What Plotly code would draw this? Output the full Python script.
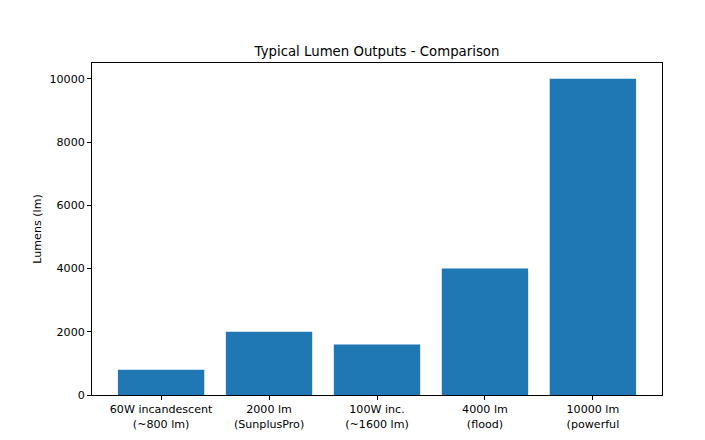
import plotly.graph_objects as go

categories = ["60W incandescent<br>(~800 lm)", "2000 lm<br>(SunplusPro)", "100W inc.<br>(~1600 lm)",
              "4000 lm<br>(flood)", "10000 lm<br>(powerful"]
lumens = [800, 2000, 1600, 4000, 10000]
y_ticks = [0, 2000, 4000, 6000, 8000, 10000]
y_tick_labels = ["0", "2000", "4000", "6000", "8000", "10000"]

fig = go.Figure(go.Bar(x=categories, y=lumens, marker_color="#1f77b4", width=0.8,
                       marker_line_width=0, hoverinfo="x+y"))

font = "DejaVu Sans"
fs = 11.1
fig.update_layout(
    width=705, height=440,
    margin=dict(l=84, r=51, t=55, b=53),
    paper_bgcolor="white", plot_bgcolor="white",
    font=dict(family=font, size=fs, color="black"),
    title=dict(text="Typical Lumen Outputs - Comparison", font=dict(family=font, size=13.3, color="black"),
               x=(377 - 8) / 705, xanchor="center", xref="container", yref="container",
               y=1 - 43 / 440, yanchor="middle"),
    showlegend=False,
)
fig.update_xaxes(type="category", range=[-0.64, 4.64], showline=True, linecolor="black", linewidth=1,
                 mirror=True, ticks="outside", ticklen=4, tickcolor="black", showgrid=False,
                 tickfont=dict(family=font, size=fs, color="black"))
fig.update_yaxes(range=[0, 10500], tickvals=y_ticks, ticktext=y_tick_labels, showline=True,
                 linecolor="black", linewidth=1,
                 mirror=True, ticks="outside", ticklen=4, tickcolor="black", showgrid=False, zeroline=False,
                 tickfont=dict(family=font, size=fs, color="black"),
                 title=dict(text="Lumens (lm)", font=dict(family=font, size=fs, color="black"), standoff=5))

fig.write_html("out.html")
